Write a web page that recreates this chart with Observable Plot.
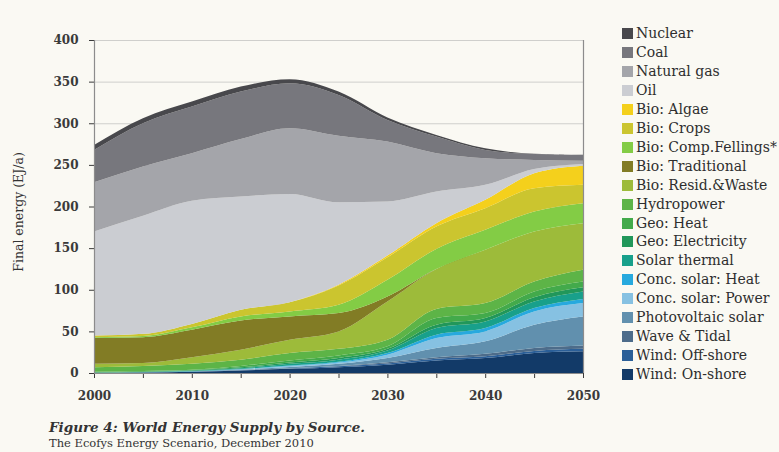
<!DOCTYPE html>
<html>
<head>
<meta charset="utf-8">
<script src="https://cdn.jsdelivr.net/npm/d3@7"></script>
<script src="https://cdn.jsdelivr.net/npm/@observablehq/plot@0.6"></script>
<style>
  html, body { margin: 0; padding: 0; background: #faf9f3; }
  #wrap { position: relative; width: 779px; height: 452px; overflow: hidden; background: #faf9f3; font-family: "DejaVu Serif", serif; color: #333; }
  #chart { position: absolute; left: 0; top: 0; }
  #ylab { position: absolute; left: 18px; top: 212px; transform: translate(-50%, -50%) rotate(-90deg); white-space: nowrap; font-size: 12.5px; color: #333; }
  #legend { position: absolute; left: 622px; top: 24px; }
  .row { position: absolute; left: 0; height: 18px; white-space: nowrap; font-size: 14px; line-height: 18px; color: #2e2e2e; }
  .sw { display: inline-block; width: 11px; height: 11px; margin-right: 3px; vertical-align: -1px; }
  #cap1 { position: absolute; left: 49px; top: 420px; font-size: 13.5px; line-height: 15px; font-weight: bold; font-style: italic; color: #333; white-space: nowrap; }
  #cap2 { position: absolute; left: 49px; top: 437px; font-size: 11.5px; line-height: 13px; color: #333; white-space: nowrap; }
</style>
</head>
<body>
<div id="wrap">
  <div id="chart"></div>
  <div id="ylab">Final energy (EJ/a)</div>
  <div id="legend"></div>
  <div id="cap1">Figure 4: World Energy Supply by Source.</div>
  <div id="cap2">The Ecofys Energy Scenario, December 2010</div>
</div>
<script>
// ---- data (EJ/a), years 2000..2050 ----
const years = [2000, 2005, 2010, 2015, 2020, 2025, 2030, 2035, 2040, 2045, 2050];

const windOnshore    = [0.3, 0.7, 1.5, 3, 5, 7, 10, 15, 18, 24, 26];
const windOffshore   = [0, 0, 0, 0.3, 0.5, 1, 1.5, 2, 2, 2.5, 3];
const waveTidal      = [0, 0, 0, 0.1, 0.3, 0.5, 1.5, 2, 3, 3.5, 4];
const photovoltaic   = [0, 0.1, 0.3, 0.8, 1.5, 2.5, 5, 11, 15, 28, 35];
const concSolarPower = [0, 0, 0.1, 0.3, 1, 1.5, 4, 12, 12, 16, 16];
const concSolarHeat  = [0, 0.1, 0.1, 0.3, 0.7, 1, 2, 4, 4, 4, 5];
const solarThermal   = [0.2, 0.3, 0.6, 1, 2, 2.5, 3, 8, 8, 8, 9];
const geoElectricity = [0.3, 0.4, 0.6, 1, 1.5, 2, 2, 4, 4, 5, 5];
const geoHeat        = [0.7, 0.8, 0.8, 1.7, 2.5, 3, 3, 8, 6, 7, 7];
const hydropower     = [5.5, 6.1, 7, 7.5, 9, 8, 8, 11, 12, 12, 14];
const bioResid       = [4, 3.5, 8, 12, 16, 21, 46, 48, 64, 60, 56];
const bioTraditional = [31, 31, 33, 35, 28, 22, 6, 0, 0, 0, 0];
const bioCompFell    = [1, 1.5, 3, 5, 6, 10, 20, 24, 24, 24, 24];
const bioCrops       = [2, 2.5, 4, 8, 11, 23, 27, 27, 26, 28, 22];
const bioAlgae       = [0, 0, 0, 0, 0, 1, 2, 4, 10, 18, 23];
const oil            = [125, 142, 148, 136, 130, 99, 65, 38, 18, 5, 2];
const naturalGas     = [59, 59, 57, 69, 79, 80, 72, 46, 32, 11, 4];
const coal           = [39, 52, 56, 57, 54, 49, 26, 20, 10, 7, 7];
const nuclear        = [6, 6, 6, 6, 5, 4, 3, 2, 2, 0.5, 0.3];

// stacking order, bottom to top
const seriesNames = [
  "Wind: On-shore", "Wind: Off-shore", "Wave & Tidal", "Photovoltaic solar",
  "Conc. solar: Power", "Conc. solar: Heat", "Solar thermal", "Geo: Electricity",
  "Geo: Heat", "Hydropower", "Bio: Resid.&Waste", "Bio: Traditional",
  "Bio: Comp.Fellings*", "Bio: Crops", "Bio: Algae", "Oil", "Natural gas", "Coal", "Nuclear"
];
const seriesValues = [
  windOnshore, windOffshore, waveTidal, photovoltaic, concSolarPower, concSolarHeat,
  solarThermal, geoElectricity, geoHeat, hydropower, bioResid, bioTraditional,
  bioCompFell, bioCrops, bioAlgae, oil, naturalGas, coal, nuclear
];
const seriesColors = [
  "#123a68", "#2b5f98", "#4d6c8a", "#6190ae",
  "#86c1e2", "#27a9de", "#18a08b", "#21975a",
  "#43aa4b", "#5db447", "#9dbb3a", "#827c25",
  "#83cc45", "#cbc52f", "#f4d01c", "#cbcdd2", "#a4a5aa", "#77777d", "#48484c"
];

const yTicks = [0, 50, 100, 150, 200, 250, 300, 350, 400];
const xTicks = [2000, 2005, 2010, 2015, 2020, 2025, 2030, 2035, 2040, 2045, 2050];

const data = [];
seriesNames.forEach((name, i) => {
  years.forEach((yr, j) => data.push({series: name, year: yr, value: seriesValues[i][j]}));
});

const chart = Plot.plot({
  width: 600,
  height: 412,
  marginLeft: 94,
  marginRight: 17,
  marginTop: 40,
  marginBottom: 39,
  style: {background: "transparent", fontFamily: "DejaVu Serif", fontSize: "12px", fontWeight: "bold", color: "#3a3a3a"},
  x: {domain: [2000, 2050], ticks: xTicks, tickFormat: d => d % 10 === 0 ? String(d) : "", tickSize: 5, tickPadding: 13, label: null},
  y: {domain: [0, 400], ticks: yTicks, tickSize: 5, tickPadding: 11, label: null},
  color: {domain: seriesNames, range: seriesColors},
  marks: [
    Plot.ruleY(yTicks, {stroke: "#cfcfcc", strokeWidth: 1}),
    Plot.areaY(data, {x: "year", y: "value", fill: "series", order: seriesNames, curve: "monotone-x"}),
    Plot.ruleX([2000, 2050], {stroke: "#8c8c8c", strokeWidth: 1.2}),
    Plot.ruleY([0], {stroke: "#8c8c8c", strokeWidth: 1.2})
  ]
});
document.getElementById("chart").appendChild(chart);

// legend (top to bottom = reverse stack order)
const legend = document.getElementById("legend");
const legendOrder = seriesNames.slice().reverse();
const legendColors = seriesColors.slice().reverse();
legendOrder.forEach((name, i) => {
  const row = document.createElement("div");
  row.className = "row";
  row.style.top = (i * 18.95) + "px";
  const sw = document.createElement("span");
  sw.className = "sw";
  sw.style.background = legendColors[i];
  row.appendChild(sw);
  row.appendChild(document.createTextNode(name));
  legend.appendChild(row);
});
</script>
</body>
</html>
